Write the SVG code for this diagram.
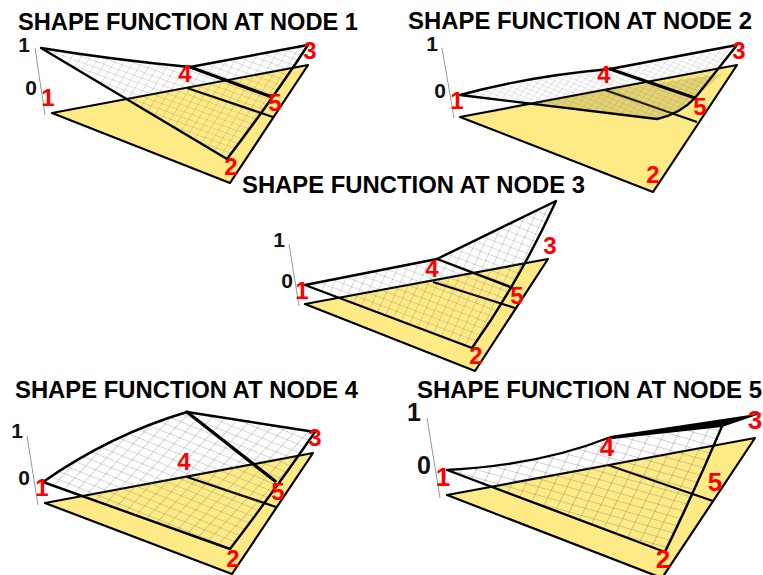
<svg xmlns="http://www.w3.org/2000/svg" width="763" height="575" viewBox="0 0 763 575">
<style>
.base{fill:#ffeb85;stroke:#000;stroke-width:2.2;stroke-linejoin:round}
.div{fill:none;stroke:#000;stroke-width:2.3}
.edge{fill:none;stroke:#000;stroke-width:2.4;stroke-linejoin:round;stroke-linecap:round}
.thick{fill:none;stroke:#000;stroke-width:3.3;stroke-linecap:round}
.axis{fill:none;stroke:#999;stroke-width:1}
.title{font:bold 23px "Liberation Sans",Arial,sans-serif;fill:#000}
.val{font:bold 21px "Liberation Sans",Arial,sans-serif;fill:#111;text-anchor:middle}
.num{font:bold 24px "Liberation Sans",Arial,sans-serif;fill:#f00;text-anchor:middle}
#panel-5 .val{font-size:25px}
#panel-5 .num{font-size:26px}
.gl{fill:none;stroke:#666;stroke-width:.6}
</style>
<defs>
<pattern id="g1" patternUnits="userSpaceOnUse" width="10" height="10" patternTransform="matrix(.75 .27 .32 -.5 40 48)"><path class="gl" d="M0 0H10M0 0V10"/></pattern>
<pattern id="g2" patternUnits="userSpaceOnUse" width="10" height="10" patternTransform="matrix(.55 .22 .3 -.35 460 95)"><path class="gl" d="M0 0H10M0 0V10"/></pattern>
<pattern id="g3" patternUnits="userSpaceOnUse" width="10" height="10" patternTransform="matrix(.8 .3 .3 -.65 305 285)"><path class="gl" d="M0 0H10M0 0V10"/></pattern>
<pattern id="g4" patternUnits="userSpaceOnUse" width="10" height="10" patternTransform="matrix(1 .4 .55 -.6 43 482)"><path class="gl" d="M0 0H10M0 0V10"/></pattern>
<pattern id="g5" patternUnits="userSpaceOnUse" width="10" height="10" patternTransform="matrix(1.25 .35 .35 -.72 447 470)"><path class="gl" d="M0 0H10M0 0V10"/></pattern>
</defs>

<g id="panel-1">
<text class="title" x="18" y="30" textLength="340" lengthAdjust="spacingAndGlyphs">SHAPE FUNCTION AT NODE 1</text>
<path class="axis" d="M35 48L45 115"/>
<path class="base" d="M52 113L308 65L230 183Z"/>
<path class="div" d="M187 88L273 117"/>
<path fill="url(#g1)" d="M41 48Q115 60 190 67L308 45Q272 100 227 159Z"/>
<path class="edge" d="M227 159L41 48Q115 60 190 67L308 45Q272 100 227 159"/>
<path class="thick" d="M190 67L272 97"/>
<text class="val" x="24" y="52">1</text><text class="val" x="31" y="95">0</text>
<text class="num" x="48" y="106">1</text><text class="num" x="185" y="82">4</text><text class="num" x="310" y="59">3</text><text class="num" x="275" y="111">5</text><text class="num" x="231" y="175">2</text>
</g>

<g id="panel-2">
<text class="title" x="408" y="29" textLength="344" lengthAdjust="spacingAndGlyphs">SHAPE FUNCTION AT NODE 2</text>
<path class="axis" d="M442 48L454 118"/>
<path class="base" d="M460 117L737 65L653 192Z"/>
<path class="div" d="M605 90L697 122"/>
<path fill="url(#g2)" d="M460 95Q530 76 610 69L737 45Q715 75 695 98Q680 114 657 119Z"/>
<path fill="#8a7a30" fill-opacity=".22" d="M530 104L606 90L722 74L695 98Q680 114 657 119Z"/>
<path class="edge" d="M695 98L737 45L610 69Q530 76 460 95L657 119Q680 114 695 98"/>
<path class="thick" d="M610 69L695 98"/>
<text class="val" x="432" y="51">1</text><text class="val" x="440" y="98">0</text>
<text class="num" x="457" y="109">1</text><text class="num" x="604" y="83">4</text><text class="num" x="739" y="59">3</text><text class="num" x="700" y="115">5</text><text class="num" x="653" y="183">2</text>
</g>

<g id="panel-3">
<text class="title" x="242" y="193" textLength="343" lengthAdjust="spacingAndGlyphs">SHAPE FUNCTION AT NODE 3</text>
<path class="axis" d="M289 244L299 306"/>
<path class="base" d="M305 304L548 259L475 371Z"/>
<path class="div" d="M433 282L515 308"/>
<path fill="url(#g3)" d="M305 285L437 259L556 201Q520 280 472 348Z"/>
<path class="edge" d="M472 348L305 285L437 259L556 201Q520 280 472 348"/>
<path class="edge" d="M437 259L513 288"/>
<text class="val" x="279" y="247">1</text><text class="val" x="287" y="288">0</text>
<text class="num" x="302" y="299">1</text><text class="num" x="432" y="277">4</text><text class="num" x="550" y="254">3</text><text class="num" x="517" y="304">5</text><text class="num" x="476" y="364">2</text>
</g>

<g id="panel-4">
<text class="title" x="15" y="398" textLength="343" lengthAdjust="spacingAndGlyphs">SHAPE FUNCTION AT NODE 4</text>
<path class="axis" d="M27 436L38 505"/>
<path class="base" d="M45 503L313 453L232 574Z"/>
<path class="div" d="M187 477L276 507"/>
<path fill="url(#g4)" d="M43 482Q110 435 187 412L315 432Q275 490 230 549Z"/>
<path class="edge" d="M230 549L43 482Q110 435 187 412L315 432Q275 490 230 549"/>
<path class="thick" d="M187 412L275 481"/>
<text class="val" x="17" y="438">1</text><text class="val" x="24" y="485">0</text>
<text class="num" x="42" y="496">1</text><text class="num" x="184" y="470">4</text><text class="num" x="315" y="446">3</text><text class="num" x="278" y="500">5</text><text class="num" x="233" y="567">2</text>
</g>

<g id="panel-5">
<text class="title" x="417" y="398" textLength="345" lengthAdjust="spacingAndGlyphs">SHAPE FUNCTION AT NODE 5</text>
<path class="axis" d="M427 418L440 498"/>
<path class="base" d="M447 495L755 438L662 578Z"/>
<path class="div" d="M608 465L713 501"/>
<path fill="url(#g5)" d="M447 470Q540 465 608 438L721 427Q695 490 665 552Z"/>
<path class="edge" d="M665 552L447 470Q540 465 608 438L723 424Q695 490 665 552"/>
<path d="M610 436L763 413L722 427L612 439Z" fill="#000"/>
<text class="val" x="414" y="421">1</text><text class="val" x="424" y="474">0</text>
<text class="num" x="443" y="486">1</text><text class="num" x="607" y="456">4</text><text class="num" x="755" y="429">3</text><text class="num" x="715" y="491">5</text><text class="num" x="663" y="568">2</text>
</g>
</svg>
